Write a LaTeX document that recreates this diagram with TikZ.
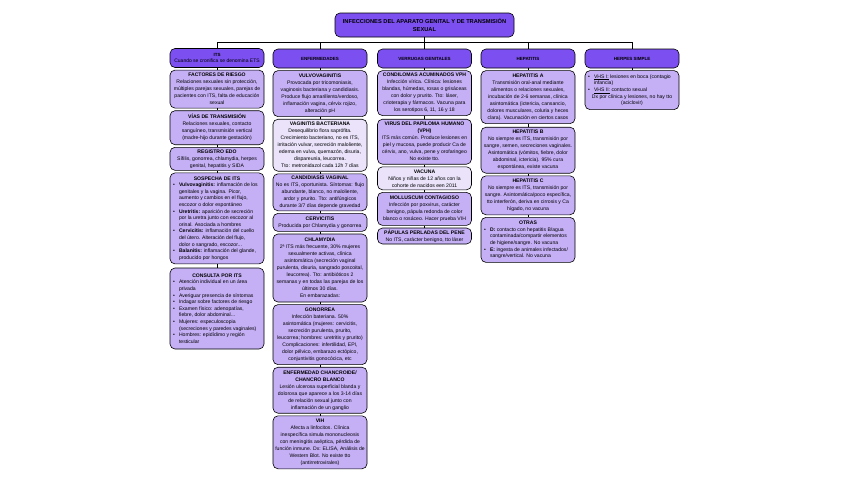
\documentclass[tikz,border=0pt]{standalone}
\usepackage{fontspec}
\setmainfont{Liberation Sans}
\usetikzlibrary{positioning,calc}
\definecolor{headviolet}{RGB}{124,80,240}
\definecolor{boxlilac}{RGB}{197,176,246}
\definecolor{boxpale}{RGB}{234,227,250}
% list helpers
\newcommand{\bitem}{\makebox[6pt][l]{\textbullet}}
\newcommand{\bcont}{\hspace*{6pt}}
\newcommand{\boxhead}[1]{\makebox[88pt]{\textbf{#1}}}
\tikzset{
  mapbox/.style={draw=black, line width=0.6pt, rounded corners=5pt, align=center, minimum width=94pt,
    inner xsep=2pt, inner ysep=1.5pt, font=\fontsize{5.1}{7}\selectfont},
  headbox/.style={mapbox, fill=headviolet, minimum height=19pt, font=\fontsize{4.5}{6}\selectfont},
  subbox/.style={mapbox, fill=boxlilac, below=2pt of #1},
  palebox/.style={mapbox, fill=boxpale, below=2pt of #1},
  listbox/.style={subbox=#1, align=left, font=\fontsize{5.1}{6.6}\selectfont},
  link/.style={draw=black, line width=0.5pt}
}
\begin{document}
\begin{tikzpicture}[x=1pt, y=-1pt]
  \useasboundingbox[fill=white] (0,0) rectangle (848,477);
  % title and column heads
  \node[mapbox, fill=headviolet, minimum width=179pt, minimum height=24pt, font=\bfseries\fontsize{5.7}{8.5}\selectfont]
    (title) at (424.5,25) {INFECCIONES DEL APARATO GENITAL Y DE TRANSMISIÓN\\SEXUAL};
  \node[headbox] (its) at (217,58) {\textbf{ITS}\\{\fontsize{5}{6}\selectfont Cuando se cronifica se denomina ETS}};
  \node[headbox] (enf) at (320,58.5) {\textbf{ENFERMEDADES}};
  \node[headbox] (verr) at (424.5,58.5) {\textbf{VERRUGAS GENITALES}};
  \node[headbox] (hep) at (528,58.5) {\textbf{HEPATITIS}};
  \node[headbox] (herp) at (632,58.5) {\textbf{HERPES SIMPLE}};
  % ITS
  \node[subbox=its, minimum height=38pt] (riesgo) {\textbf{FACTORES DE RIESGO}\\
    Relaciones sexuales sin protección,\\ múltiples parejas sexuales, parejas de\\
    pacientes con ITS, falta de educación\\ sexual};
  \node[subbox=riesgo, minimum height=34pt] (vias) {\textbf{VÍAS DE TRANSMISIÓN}\\
    Relaciones sexuales, contacto\\ sanguíneo, transmisión vertical\\ (madre-hijo durante gestación)};
  \node[subbox=vias, minimum height=23pt] (edo) {\textbf{REGISTRO EDO}\\
    Sífilis, gonorrea, chlamydia, herpes\\ genital, hepatitis y SIDA};
  \node[listbox=edo, minimum height=91pt] (sospecha) {\boxhead{SOSPECHA DE ITS}\\
    \bitem\textbf{Vulvovaginitis:} inflamación de los\\ \bcont genitales y la vagina. Picor,\\
    \bcont aumento y cambios en el flujo,\\ \bcont escozor o dolor espontáneo\\
    \bitem\textbf{Uretritis:} aparición de secreción\\ \bcont por la uretra junto con escozor al\\
    \bcont orinal. Asociada a hombres\\
    \bitem\textbf{Cervicitis:} inflamación del cuello\\ \bcont del útero. Alteración del flujo,\\
    \bcont dolor o sangrado, escozor...\\
    \bitem\textbf{Balanitis:} inflamación del glande,\\ \bcont producido por hongos};
  \node[listbox=sospecha, minimum height=81pt, below=3.5pt of sospecha] (consulta) {\boxhead{CONSULTA POR ITS}\\
    \bitem Atención individual en un área\\ \bcont privada\\
    \bitem Averiguar presencia de síntomas\\
    \bitem Indagar sobre factores de riesgo\\
    \bitem Examen físico: adenopatías,\\ \bcont fiebre, dolor abdominal...\\
    \bitem Mujeres: especuloscopia\\ \bcont (secreciones y paredes vaginales)\\
    \bitem Hombres: epidídimo y región\\ \bcont testicular};
  % enfermedades
  \node[subbox=enf, minimum height=46pt] (vulvo) {\textbf{VULVOVAGINITIS}\\
    Provocada por tricomoniasis,\\ vaginosis bacteriana y candidiasis.\\ Produce flujo amarillento/verdoso,\\
    inflamación vagina, cérvix rojizo,\\ alteración pH};
  \node[palebox=vulvo, minimum height=52pt] (vagbac) {\textbf{VAGINITIS BACTERIANA}\\
    Desequilibrio flora saprófita.\\ Crecimiento bacteriano, no es ITS,\\ irritación vulvar, secreción maloliente,\\
    edema en vulva, quemazón, disuria,\\ dispareunia, leucorrea.\\ Tto: metronidazol cada 12h 7 días};
  \node[subbox=vagbac, minimum height=37pt] (candida) {\textbf{CANDIDIASIS VAGINAL}\\
    No es ITS, oportunista. Síntomas: flujo\\ abundante, blanco, no maloliente,\\
    ardor y prurito. Tto: antifúngicos\\ durante 3/7 días depende gravedad};
  \node[subbox=candida, minimum height=18pt] (cervic) {\textbf{CERVICITIS}\\
    Producida por Chlamydia y gonorrea};
  \node[subbox=cervic, minimum height=68pt] (chlam) {\textbf{CHLAMYDIA}\\
    2ª ITS más frecuente, 30\% mujeres\\ sexualmente activas, clínica\\ asintomática (secreción vaginal\\
    purulenta, disuria, sangrado poscoital,\\ leucorrea). Tto: antibióticos 2\\
    semanas y en todas las parejas de los\\ últimos 30 días.\\ En embarazadas:};
  \node[subbox=chlam, minimum height=60pt] (gono) {\textbf{GONORREA}\\
    Infección bateriana. 50\%\\ asintomática (mujeres: cervicitis,\\ secreción purulenta, prurito,\\
    leucorrea; hombres: uretritis y prurito)\\ Complicaciones: infertilidad, EPI,\\
    dolor pélvico, embarazo ectópico,\\ conjuntivitis gonocócica, etc};
  \node[subbox=gono, minimum height=46pt] (chancro) {\textbf{ENFERMEDAD CHANCROIDE/}\\ \textbf{CHANCRO BLANCO}\\
    Lesión ulcerosa superficial blanda y\\ dolorosa que aparece a los 3-14 días\\
    de relación sexual junto con\\ inflamación de un ganglio};
  \node[subbox=chancro, minimum height=53pt] (vih) {\textbf{VIH}\\
    Afecta a linfocitos. Clínica\\ inespecífica simula mononucleosis\\ con meningitis aséptica, pérdida de\\
    función inmune. Dx: ELISA, Análisis de\\ Western Blot. No existe tto\\ (antirretrovirales)};
  % verrugas
  \node[subbox=verr, minimum height=45pt] (condil) {\textbf{CONDILOMAS ACUMINADOS VPH}\\
    Infección vírica. Clínica: lesiones\\ blandas, húmedas, rosas o grisáceas\\ con dolor y prurito. Tto: láser,\\
    crioterapia y fármacos. Vacuna para\\ los serotipos 6, 11, 16 y 18};
  \node[subbox=condil, minimum height=45pt, below=3pt of condil] (vph) {\textbf{VIRUS DEL PAPILOMA HUMANO}\\ \textbf{(VPH)}\\
    ITS más común. Produce lesiones en\\ piel y mucosa, puede producir Ca de\\
    cérvix, ano, vulva, pene y orofaringeo\\ No existe tto.};
  \node[palebox=vph, minimum height=23pt] (vacuna) {\textbf{VACUNA}\\
    Niños y niñas de 12 años con la\\ cohorte de nacidos een 2011};
  \node[subbox=vacuna, minimum height=33pt] (mollus) {\textbf{MOLLUSCUM CONTAGIOSO}\\
    Infección por poxvirus, carácter\\ benigno, pápula redonda de color\\ blanco o rosáceo. Hacer prueba VIH};
  \node[subbox=mollus, minimum height=16pt] (papulas) {\textbf{PÁPULAS PERLADAS DEL PENE}\\
    No ITS, carácter benigno, tto láser};
  % hepatitis
  \node[subbox=hep, minimum height=53pt] (hepa) {\textbf{HEPATITIS A}\\
    Transmisión oral-anal mediante\\ alimentos o relaciones sexuales,\\ incubación de 2-6 semanas, clínica\\
    asintomática (ictericia, cansancio,\\ dolores musculares, coluria y heces\\ clara). Vacunación en ciertos casos};
  \node[subbox=hepa, minimum height=46pt, below=3pt of hepa] (hepb) {\textbf{HEPATITIS B}\\
    No siempre es ITS, transmisión por\\ sangre, semen, secreciones vaginales.\\
    Asintomática (vómitos, fiebre, dolor\\ abdominal, ictericia). 95\% cura\\ espontánea, existe vacuna};
  \node[subbox=hepb, minimum height=39pt] (hepc) {\textbf{HEPATITIS C}\\
    No siempre es ITS, transmisión por\\ sangre. Asintomática/poco específica,\\
    tto interferón, deriva en cirrosis y Ca\\ hígado, no vacuna};
  \node[listbox=hepc, minimum height=45pt] (otras) {\boxhead{OTRAS}\\
    \bitem\textbf{D:} contacto con hepatitis B/agua\\ \bcont contaminada/compartir elementos\\
    \bcont de higiene/sangre. No vacuna\\
    \bitem\textbf{E:} ingesta de animales infectados/\\ \bcont sangre/vertical. No vacuna};
  % herpes
  \node[listbox=herp, minimum height=39pt] (herpdet) {\bitem\underline{VHS I:} lesiones en boca (contagio\\
    \bcont infancia)\\ \bitem\underline{VHS II:} contacto sexual\\
    \makebox[88pt]{Dx por clínica y lesiones, no hay tto}\\ \makebox[88pt]{(aciclovir)}};
  % connectors
  \coordinate (bus) at ($(title.south)+(0,5)$);
  \draw[link] (title) -- (bus);
  \foreach \h in {its,enf,verr,hep,herp}
    \draw[link] (bus) -| (\h);
  \foreach \a/\b in {its/riesgo, riesgo/vias, vias/edo, edo/sospecha, sospecha/consulta,
                     enf/vulvo, vulvo/vagbac, vagbac/candida, candida/cervic, cervic/chlam, chlam/gono, gono/chancro, chancro/vih,
                     verr/condil, condil/vph, vph/vacuna, vacuna/mollus, mollus/papulas,
                     hep/hepa, hepa/hepb, hepb/hepc, hepc/otras, herp/herpdet}
    \draw[link] (\a) -- (\b);
\end{tikzpicture}
\end{document}
